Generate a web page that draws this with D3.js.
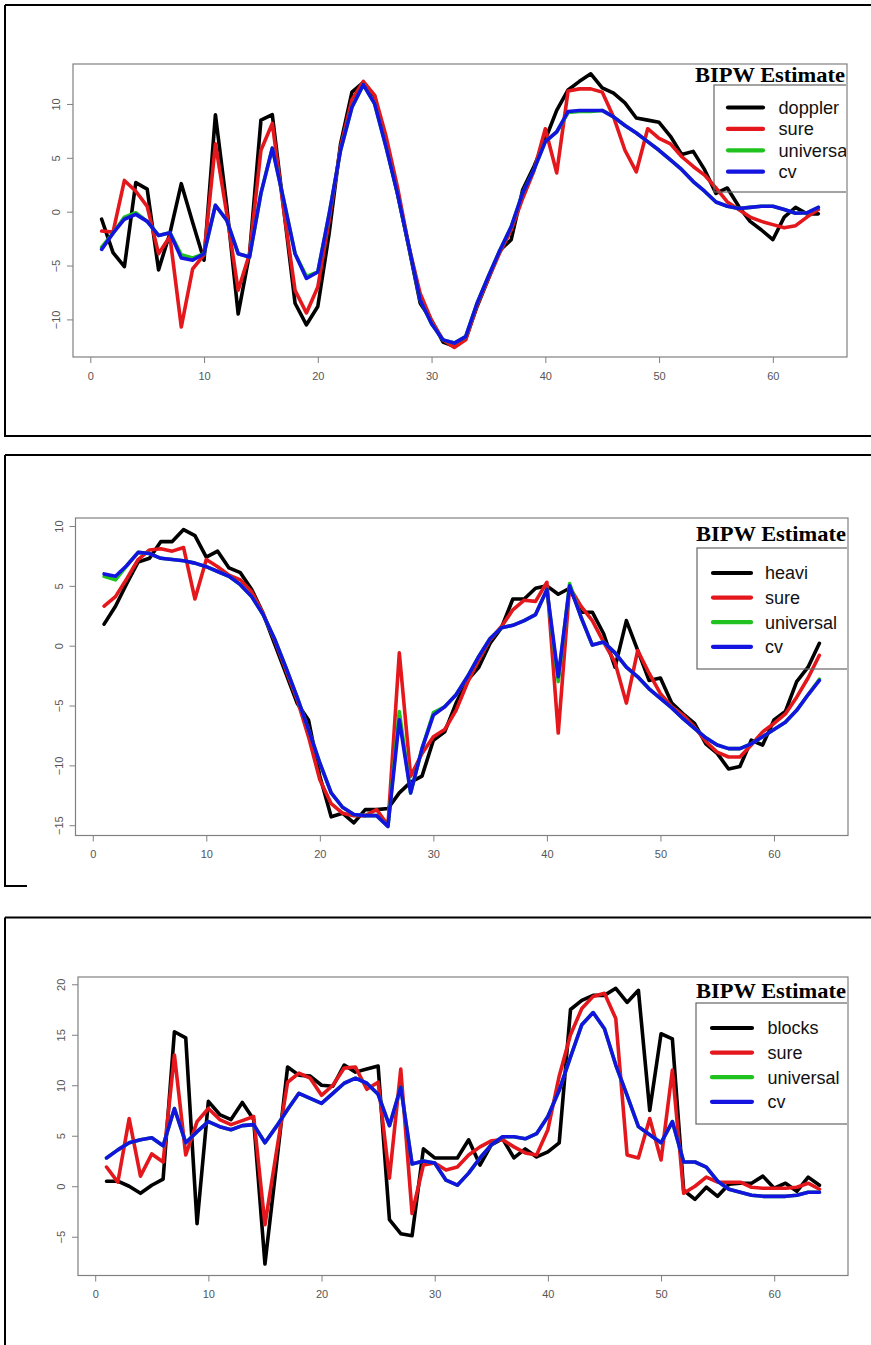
<!DOCTYPE html>
<html>
<head>
<meta charset="utf-8">
<script src="https://cdn.jsdelivr.net/npm/d3@7"></script>
<style>
  body { margin: 0; background: #fff; }
  svg { display: block; }
  .tick text { font-family: "Liberation Sans", Arial, sans-serif; font-size: 11px; fill: #555; }
  .tick line { stroke: #808080; stroke-width: 1; }
</style>
</head>
<body>
<svg id="svg" width="871" height="1345"></svg>
<script>
// x positions are the 64 sample indices
const xIndex = d3.range(1, 65);
const xTicks = [0, 10, 20, 30, 40, 50, 60];
const methodNames = ['sure', 'universal', 'cv'];
const lineColors = ['#000000', '#e3171c', '#1fc21f', '#1414e0'];

// ---- doppler ----
const dopplerTrue = [-0.7, -3.8, -5.1, 2.7, 2.1, -5.4, -2.0, 2.6, -1.0, -4.5, 9.0, 0.5, -9.5, -3.9, 8.5, 9.0,
  0.3, -8.5, -10.5, -8.8, -2.0, 6.3, 11.1, 12.0, 10.7, 6.3, 1.7, -3.3, -8.5, -10.1, -12.1, -12.5,
  -11.8, -8.8, -6.2, -3.6, -2.6, 2.0, 4.2, 6.7, 9.4, 11.3, 12.1, 12.8, 11.5, 11.0, 10.1, 8.7,
  8.5, 8.3, 7.0, 5.3, 5.6, 3.9, 1.7, 2.2, 0.5, -0.9, -1.7, -2.6, -0.5, 0.4, -0.2, -0.2];
const dopplerSure = [-1.8, -1.9, 2.9, 1.9, 0.5, -3.9, -2.3, -10.7, -5.3, -4.0, 6.3, -0.2, -7.3, -3.9, 5.7, 8.2,
  0.2, -7.3, -9.4, -7.0, -0.8, 6.0, 10.4, 12.1, 10.8, 7.0, 2.3, -3.2, -7.6, -10.1, -11.9, -12.6,
  -11.9, -8.7, -6.2, -3.8, -1.7, 1.2, 3.8, 7.7, 3.6, 11.2, 11.4, 11.4, 11.1, 8.8, 5.7, 3.7,
  7.7, 6.8, 6.3, 5.1, 4.2, 3.4, 2.2, 0.9, 0.2, -0.5, -0.9, -1.2, -1.5, -1.3, -0.5, 0.2];
const dopplerUniversal = [-3.3, -2.0, -0.5, -0.1, -0.9, -2.2, -1.95, -4.0, -4.3, -3.9, 0.6, -0.8, -3.9, -4.2, 1.7, 5.9,
  1.1, -3.9, -6.0, -5.6, -0.2, 5.7, 9.7, 11.8, 10.0, 6.0, 1.7, -3.2, -8.2, -10.4, -11.9, -12.2,
  -11.6, -8.5, -6.0, -3.6, -1.4, 1.7, 3.9, 6.5, 7.4, 9.2, 9.3, 9.3, 9.4, 8.8, 8.0, 7.3,
  6.5, 5.7, 4.8, 3.9, 2.8, 1.9, 0.9, 0.5, 0.3, 0.4, 0.5, 0.5, 0.2, -0.15, -0.1, 0.4];
const dopplerCv = [-3.5, -2.0, -0.7, -0.25, -0.9, -2.2, -1.95, -4.3, -4.5, -3.9, 0.6, -0.8, -3.9, -4.2, 1.7, 5.9,
  1.1, -3.9, -6.2, -5.6, -0.2, 5.7, 9.7, 11.8, 10.0, 6.0, 1.7, -3.2, -8.2, -10.4, -11.9, -12.2,
  -11.6, -8.5, -6.0, -3.6, -1.4, 1.7, 3.9, 6.5, 7.4, 9.3, 9.4, 9.4, 9.4, 8.8, 8.0, 7.3,
  6.5, 5.7, 4.8, 3.9, 2.8, 1.9, 0.9, 0.5, 0.3, 0.4, 0.5, 0.5, 0.2, -0.15, -0.1, 0.4];
const dopplerYTicks = [-10, -5, 0, 5, 10];

// ---- heavi ----
const heaviTrue = [1.8, 3.3, 5.2, 7.0, 7.3, 8.7, 8.7, 9.7, 9.2, 7.4, 7.9, 6.5, 6.1, 4.7, 2.7, 0.2,
  -2.3, -4.8, -6.2, -10.9, -14.3, -14.0, -14.8, -13.7, -13.7, -13.6, -12.3, -11.4, -10.9, -7.9, -7.2, -4.8,
  -2.9, -1.8, 0.2, 1.5, 3.9, 3.9, 4.8, 5.0, 4.3, 4.8, 2.8, 2.8, 1.0, -1.8, 2.1, -0.4,
  -2.9, -2.7, -4.8, -5.7, -6.5, -8.2, -9.0, -10.3, -10.1, -7.9, -8.3, -6.2, -5.5, -3.0, -1.8, 0.2];
const heaviSure = [3.3, 4.1, 5.6, 7.2, 8.0, 8.1, 7.9, 8.2, 3.9, 7.2, 6.6, 5.9, 5.5, 4.5, 2.7, 0.5,
  -2.0, -4.5, -7.6, -11.2, -13.2, -14.0, -14.2, -14.2, -13.7, -15.0, -0.6, -10.9, -9.0, -7.6, -7.0, -5.4,
  -3.1, -1.2, 0.5, 1.6, 3.0, 3.8, 3.7, 5.3, -7.3, 4.9, 3.3, 2.1, 0.3, -1.4, -4.8, -0.4,
  -2.3, -4.0, -5.1, -5.8, -6.8, -8.0, -8.9, -9.3, -9.3, -8.3, -7.2, -6.5, -5.7, -4.3, -2.7, -0.8];
const heaviUniversal = [5.8, 5.5, 6.7, 7.8, 7.7, 7.3, 7.2, 7.1, 6.9, 6.6, 6.2, 5.8, 5.1, 4.1, 2.6, 0.6,
  -1.8, -4.3, -7.0, -9.8, -12.3, -13.5, -14.1, -14.2, -14.2, -15.1, -5.5, -12.3, -8.6, -5.6, -5.1, -4.1,
  -2.6, -0.9, 0.6, 1.5, 1.7, 2.1, 2.6, 4.7, -3.0, 5.2, 2.4, 0.05, 0.3, -0.6, -1.8, -2.6,
  -3.6, -4.4, -5.2, -6.1, -6.9, -7.7, -8.3, -8.6, -8.6, -8.2, -7.6, -7.0, -6.4, -5.4, -4.1, -2.8];
const heaviCv = [6.0, 5.8, 6.7, 7.8, 7.7, 7.3, 7.2, 7.1, 6.9, 6.6, 6.2, 5.8, 5.1, 4.1, 2.6, 0.6,
  -1.8, -4.3, -7.0, -9.8, -12.3, -13.5, -14.1, -14.2, -14.2, -15.1, -6.2, -12.3, -8.6, -5.8, -5.1, -4.1,
  -2.6, -0.9, 0.6, 1.5, 1.7, 2.1, 2.6, 4.7, -2.6, 5.0, 2.4, 0.05, 0.3, -0.6, -1.8, -2.6,
  -3.6, -4.4, -5.2, -6.1, -6.9, -7.7, -8.3, -8.6, -8.6, -8.2, -7.6, -7.0, -6.4, -5.4, -4.1, -2.9];
const heaviYTicks = [-15, -10, -5, 0, 5, 10];

// ---- blocks ----
const blocksTrue = [0.5, 0.5, 0.0, -0.7, 0.1, 0.7, 15.3, 14.7, -3.7, 8.4, 7.1, 6.6, 8.3, 6.6, -7.7, 2.0,
  11.8, 11.0, 10.9, 10.0, 9.9, 12.0, 11.3, 11.6, 11.9, -3.3, -4.7, -4.9, 3.7, 2.8, 2.8, 2.8,
  4.6, 2.1, 4.1, 4.7, 2.8, 3.7, 2.9, 3.4, 4.3, 17.5, 18.4, 18.9, 18.9, 19.6, 18.2, 19.4,
  7.5, 15.1, 14.6, -0.4, -1.3, -0.1, -1.0, 0.2, 0.3, 0.3, 1.0, -0.2, 0.3, -0.5, 0.9, 0.1];
const blocksSure = [1.9, 0.4, 6.7, 1.0, 3.2, 2.4, 13.0, 3.1, 6.4, 7.7, 6.6, 6.1, 6.5, 6.9, -3.8, 3.3,
  10.3, 11.2, 10.7, 9.0, 10.0, 11.7, 11.8, 9.6, 10.3, 0.8, 11.6, -2.7, 2.1, 2.3, 1.6, 1.9,
  3.1, 3.9, 4.5, 4.6, 3.9, 3.3, 3.1, 5.6, 10.9, 15.0, 17.6, 18.8, 19.1, 16.6, 3.1, 2.8,
  6.7, 2.6, 11.5, -0.7, 0.0, 0.9, 0.4, 0.4, 0.4, -0.1, -0.2, -0.2, -0.2, -0.1, 0.3, -0.3];
const blocksUniversal = [2.8, 3.6, 4.3, 4.6, 4.8, 4.0, 7.7, 4.3, 5.4, 6.4, 5.9, 5.6, 6.0, 6.1, 4.3, 5.9,
  7.6, 9.2, 8.7, 8.2, 9.2, 10.2, 10.7, 10.2, 9.1, 6.0, 9.8, 2.2, 2.5, 2.3, 0.6, 0.1,
  1.3, 2.8, 4.1, 4.9, 4.9, 4.7, 5.2, 6.9, 9.5, 12.8, 16.0, 17.2, 15.6, 12.0, 9.0, 5.9,
  5.1, 4.3, 6.4, 2.4, 2.4, 1.9, 0.5, -0.3, -0.6, -0.9, -1.0, -1.0, -1.0, -0.9, -0.6, -0.6];
const blocksCv = [2.8, 3.6, 4.3, 4.6, 4.8, 4.0, 7.7, 4.3, 5.4, 6.4, 5.9, 5.6, 6.0, 6.1, 4.3, 5.9,
  7.6, 9.2, 8.7, 8.2, 9.2, 10.2, 10.7, 10.2, 9.1, 6.0, 9.8, 2.2, 2.5, 2.3, 0.6, 0.1,
  1.3, 2.8, 4.1, 4.9, 4.9, 4.7, 5.2, 6.9, 9.5, 12.8, 16.0, 17.2, 15.6, 12.0, 9.0, 5.9,
  5.1, 4.3, 6.4, 2.4, 2.4, 1.9, 0.5, -0.3, -0.6, -0.9, -1.0, -1.0, -1.0, -0.9, -0.6, -0.6];
const blocksYTicks = [-5, 0, 5, 10, 15, 20];

// layout for each of the three stacked figures
const panels = [
  {
    id: 'doppler', series: [dopplerTrue, dopplerSure, dopplerUniversal, dopplerCv], yTicks: dopplerYTicks,
    yDomain: [-13.49, 13.71], box: { left: 73, top: 64, right: 847, bottom: 357 },
    frame: 'M5,5H871M5,5V436H871',
    titleY: 82, legend: { left: 714, top: 85, bottom: 192, first: 107.5, step: 21.4, lineX: [728, 763], textX: 778.5, size: 18.2 }
  },
  {
    id: 'heavi', series: [heaviTrue, heaviSure, heaviUniversal, heaviCv], yTicks: heaviYTicks,
    yDomain: [-15.86, 10.67], box: { left: 75.5, top: 518, right: 848, bottom: 835.5 },
    frame: 'M5,455H871M5,455V886H27',
    titleY: 541, legend: { left: 697, top: 548, bottom: 669, first: 573, step: 24.6, lineX: [713, 751], textX: 765, size: 18 }
  },
  {
    id: 'blocks', series: [blocksTrue, blocksSure, blocksUniversal, blocksCv], yTicks: blocksYTicks,
    yDomain: [-8.84, 20.72], box: { left: 78, top: 977, right: 848, bottom: 1275.5 },
    frame: 'M5,917.5H871M5,917.5V1345',
    titleY: 998, legend: { left: 696, top: 1003, bottom: 1124, first: 1028, step: 24.6, lineX: [712, 752], textX: 767.5, size: 18 }
  }
];

const svg = d3.select('#svg');
svg.append('rect').attr('width', 871).attr('height', 1345).attr('fill', '#fff');

const drawPanel = (p) => {
  const b = p.box;
  const x = d3.scaleLinear().domain([-1.52, 66.52]).range([b.left, b.right]);
  const y = d3.scaleLinear().domain(p.yDomain).range([b.bottom, b.top]);
  const g = svg.append('g');

  // outer frame
  g.append('path').attr('d', p.frame).attr('fill', 'none').attr('stroke', '#000').attr('stroke-width', 2);

  const clipId = 'clip-' + p.id;
  g.append('clipPath').attr('id', clipId).append('rect')
    .attr('x', b.left).attr('y', b.top).attr('width', b.right - b.left - 1).attr('height', b.bottom - b.top);

  // lines
  const line = d3.line().x((d, i) => x(xIndex[i])).y((d) => y(d));
  const gLines = g.append('g').attr('clip-path', 'url(#' + clipId + ')');
  p.series.forEach((s, j) => {
    gLines.append('path').datum(s).attr('d', line)
      .attr('fill', 'none').attr('stroke', lineColors[j]).attr('stroke-width', 3.6)
      .attr('stroke-linejoin', 'round').attr('stroke-linecap', 'round');
  });

  // axes
  const gx = g.append('g').attr('transform', 'translate(0,' + b.bottom + ')')
    .call(d3.axisBottom(x).tickValues(xTicks).tickSize(6).tickPadding(9).tickFormat(d3.format('d')));
  gx.select('.domain').remove();

  const gy = g.append('g').attr('transform', 'translate(' + b.left + ',0)')
    .call(d3.axisLeft(y).tickValues(p.yTicks).tickSize(6).tickFormat(d3.format('d')));
  gy.select('.domain').remove();
  gy.selectAll('.tick text').attr('x', 0).attr('dy', 0).attr('text-anchor', 'middle')
    .attr('transform', 'translate(-13,0) rotate(-90)');

  // plot box
  g.append('rect').attr('x', b.left).attr('y', b.top)
    .attr('width', b.right - b.left).attr('height', b.bottom - b.top)
    .attr('fill', 'none').attr('stroke', '#808080').attr('stroke-width', 1.2);

  // legend
  const L = p.legend;
  const gLeg = g.append('g').attr('clip-path', 'url(#' + clipId + ')');
  gLeg.append('text').attr('x', b.right - 2).attr('y', p.titleY).attr('text-anchor', 'end')
    .attr('font-family', '"Liberation Serif", "Times New Roman", serif').attr('font-weight', 'bold')
    .attr('font-size', 22).attr('textLength', 150).attr('lengthAdjust', 'spacingAndGlyphs')
    .text('BIPW Estimate');
  gLeg.append('rect').attr('x', L.left).attr('y', L.top)
    .attr('width', b.right - L.left).attr('height', L.bottom - L.top)
    .attr('fill', 'none').attr('stroke', '#666').attr('stroke-width', 1.2);
  const labels = [p.id].concat(methodNames);
  labels.forEach((lab, j) => {
    const ry = L.first + j * L.step;
    gLeg.append('line').attr('x1', L.lineX[0]).attr('x2', L.lineX[1]).attr('y1', ry).attr('y2', ry)
      .attr('stroke', lineColors[j]).attr('stroke-width', 4.2).attr('stroke-linecap', 'round');
    gLeg.append('text').attr('x', L.textX).attr('y', ry).attr('dy', '0.35em')
      .attr('font-family', '"Liberation Sans", Arial, sans-serif').attr('font-size', L.size)
      .attr('fill', '#111').text(lab);
  });
};

panels.forEach(drawPanel);
</script>
</body>
</html>
